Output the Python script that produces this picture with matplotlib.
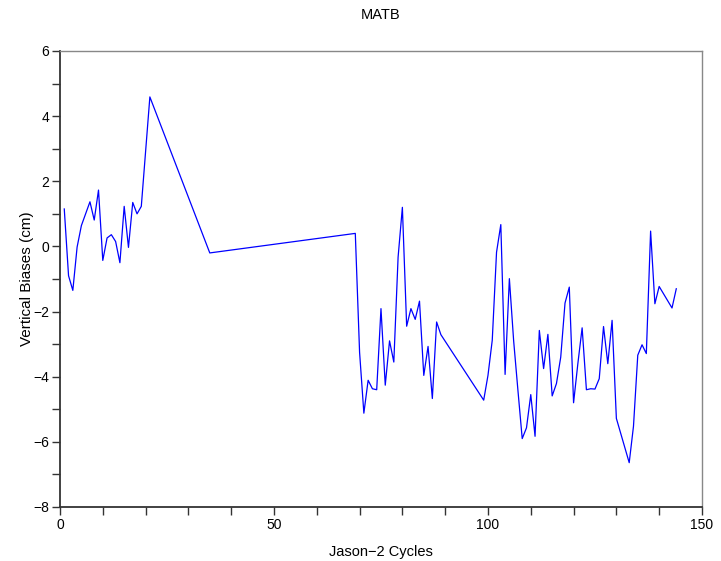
import matplotlib
matplotlib.use("Agg")
import matplotlib.pyplot as plt
from matplotlib.ticker import MultipleLocator

plt.rcParams["font.family"] = ["Liberation Sans", "DejaVu Sans"]

cycles = [1, 2, 3, 4, 5, 7, 8, 9, 10, 11, 12, 13, 14, 15, 16, 17, 18, 19, 21,
          35, 69, 70, 71, 72, 73, 74, 75, 76, 77, 78, 79, 80, 81, 82, 83, 84,
          85, 86, 87, 88, 89, 99, 100, 101, 102, 103, 104, 105, 106, 107, 108,
          109, 110, 111, 112, 113, 114, 115, 116, 117, 118, 119, 120, 121, 122,
          123, 124, 125, 126, 127, 128, 129, 130, 133, 134, 135, 136, 137, 138,
          139, 140, 143, 144]
biases = [1.15, -0.9, -1.35, -0.02, 0.64, 1.37, 0.81, 1.73, -0.43, 0.26, 0.36,
          0.15, -0.5, 1.23, -0.03, 1.35, 1.0, 1.23, 4.59,
          -0.2, 0.4, -3.25, -5.12, -4.11, -4.37, -4.4, -1.91, -4.26, -2.9, -3.55,
          -0.33, 1.2, -2.45, -1.91, -2.24, -1.68, -3.96, -3.07, -4.67, -2.32,
          -2.71, -4.72, -3.96, -2.88, -0.18, 0.67, -3.93, -0.99, -2.9, -4.42,
          -5.9, -5.57, -4.55, -5.83, -2.58, -3.75, -2.7, -4.59, -4.21, -3.4,
          -1.74, -1.25, -4.8, -3.6, -2.5, -4.4, -4.37, -4.38, -4.06, -2.46,
          -3.6, -2.27, -5.28, -6.64, -5.52, -3.34, -3.02, -3.29, 0.47, -1.76,
          -1.23, -1.89, -1.3]

fig = plt.figure(figsize=(7.21, 5.61), dpi=100)
ax = fig.add_axes([0.0832, 0.0963, 0.8904, 0.8128])

ax.plot(cycles, biases, color="#0000ff", linewidth=0.9)

ax.set_xlim(0, 150)
ax.set_ylim(-8, 6)
ax.xaxis.set_major_locator(MultipleLocator(50))
ax.xaxis.set_minor_locator(MultipleLocator(10))
ax.yaxis.set_major_locator(MultipleLocator(2))
ax.yaxis.set_minor_locator(MultipleLocator(1))
ax.tick_params(which="both", direction="out", length=6, width=1,
               labelsize=10, color="#333333", pad=2)

for side in ("left", "bottom"):
    ax.spines[side].set_color("#333333")
    ax.spines[side].set_linewidth(1.3)
for side in ("top", "right"):
    ax.spines[side].set_color("#888888")
    ax.spines[side].set_linewidth(1.0)

ax.set_title("MATB", fontsize=10.5, pad=23)
ax.set_xlabel("Jason\u22122 Cycles", fontsize=10.5, labelpad=9)
ax.set_ylabel("Vertical Biases (cm)", fontsize=11, labelpad=-1)

fig.savefig("out.png", dpi=100, facecolor="white")
